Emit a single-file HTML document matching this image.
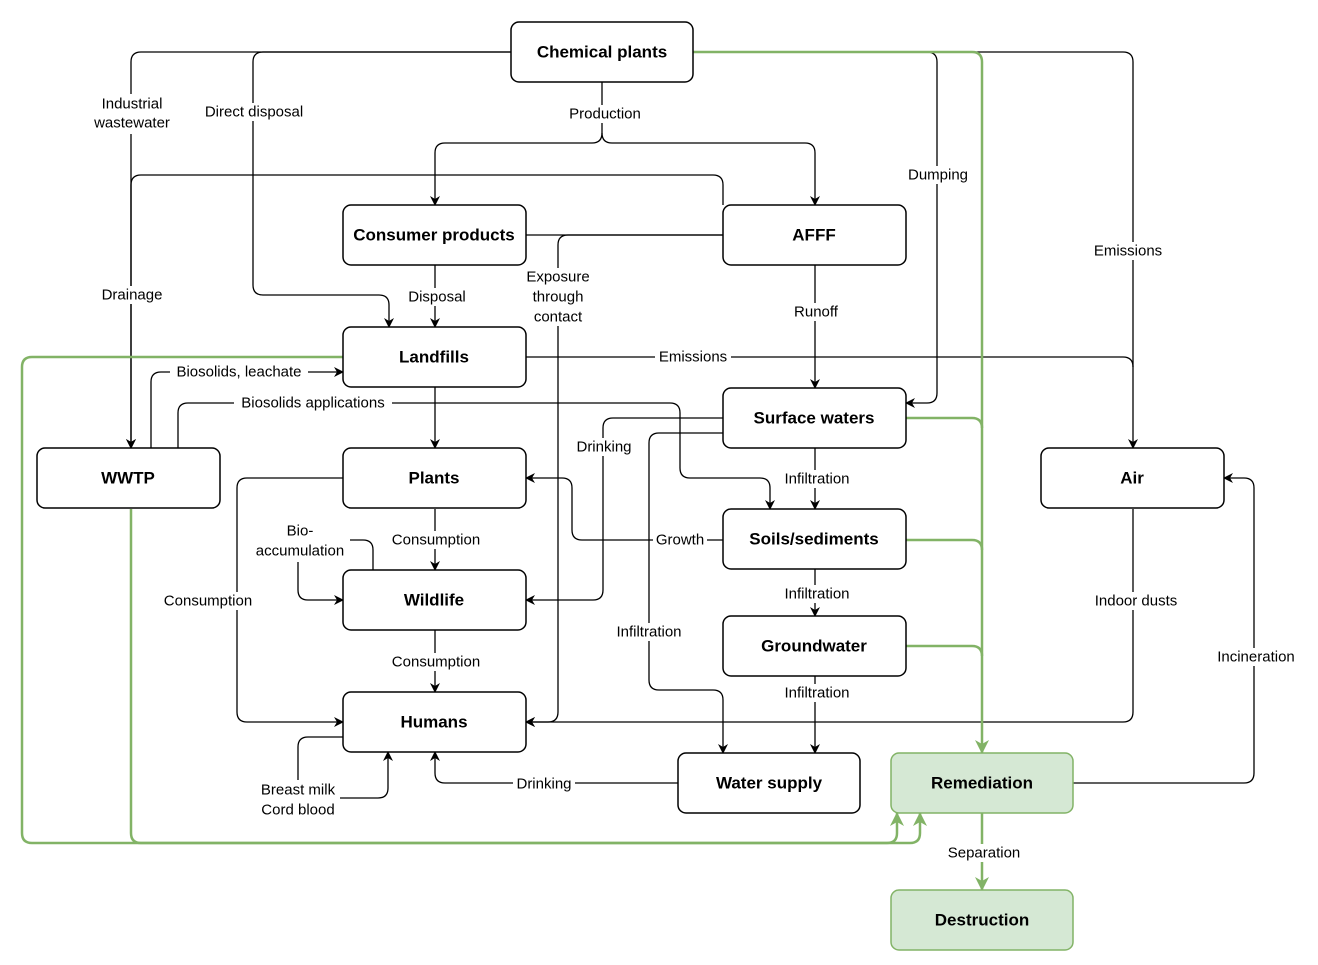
<!DOCTYPE html>
<html><head><meta charset="utf-8"><style>
html,body{margin:0;padding:0;background:#fff}
svg{display:block}
.n{fill:#fff;stroke:#000;stroke-width:1.5}
.g{fill:#d5e8d4;stroke:#82b366;stroke-width:1.5}
.t{font-family:"Liberation Sans",sans-serif;font-weight:bold;font-size:17px;text-anchor:middle;dominant-baseline:central}
.l{font-family:"Liberation Sans",sans-serif;font-size:15px;text-anchor:middle;dominant-baseline:central}
.e{fill:none;stroke:#000;stroke-width:1.3}
.ge{fill:none;stroke:#82b366;stroke-width:2.5}
.lb{fill:#fff}
</style></head><body>
<svg width="1318" height="965" viewBox="0 0 1318 965" xmlns="http://www.w3.org/2000/svg">
<defs>
<marker id="a" markerWidth="10" markerHeight="10" refX="9" refY="5" orient="auto" markerUnits="userSpaceOnUse"><path d="M0,0 L10,5 L0,10 L3,5 Z" fill="#000"/></marker>
<marker id="ga" markerWidth="14" markerHeight="14" refX="13" refY="7" orient="auto" markerUnits="userSpaceOnUse"><path d="M0,0 L14,7 L0,14 L4,7 Z" fill="#82b366"/></marker>
</defs>
<path class="e" marker-end="url(#a)" d="M511,52 H141 Q131,52 131,62 V448"/>
<path class="e" marker-end="url(#a)" d="M511,52 H263 Q253,52 253,62 V285 Q253,295 263,295 H379 Q389,295 389,305 V327"/>
<path class="e" d="M602,82 V133 Q602,143 592,143 H445 Q435,143 435,153 V205" marker-end="url(#a)"/>
<path class="e" d="M602,133 Q602,143 612,143 H805 Q815,143 815,153 V205" marker-end="url(#a)"/>
<path class="e" marker-end="url(#a)" d="M723,205 V185 Q723,175 713,175 H141 Q131,175 131,185 V448"/>
<path class="e" d="M526,235 H723"/>
<path class="e" marker-end="url(#a)" d="M723,235 H568 Q558,235 558,245 V712 Q558,722 548,722 H526"/>
<path class="e" marker-end="url(#a)" d="M435,265 V327"/>
<path class="e" marker-end="url(#a)" d="M815,265 V388"/>
<path class="e" marker-end="url(#a)" d="M693,52 H927 Q937,52 937,62 V393 Q937,403 927,403 H906"/>
<path class="e" marker-end="url(#a)" d="M693,52 H1123 Q1133,52 1133,62 V448"/>
<path class="e" d="M526,357 H1123 Q1133,357 1133,367"/>
<path class="e" marker-end="url(#a)" d="M151,448 V382 Q151,372 161,372 H343"/>
<path class="e" marker-end="url(#a)" d="M178,448 V413 Q178,403 188,403 H670 Q680,403 680,413 V468 Q680,478 690,478 H760 Q770,478 770,488 V509"/>
<path class="e" marker-end="url(#a)" d="M435,387 V448"/>
<path class="e" marker-end="url(#a)" d="M723,418 H613 Q603,418 603,428 V590 Q603,600 593,600 H526"/>
<path class="e" marker-end="url(#a)" d="M723,433 H659 Q649,433 649,443 V680 Q649,690 659,690 H713 Q723,690 723,700 V753"/>
<path class="e" marker-end="url(#a)" d="M815,448 V509"/>
<path class="e" marker-end="url(#a)" d="M723,540 H582 Q572,540 572,530 V488 Q572,478 562,478 H526"/>
<path class="e" marker-end="url(#a)" d="M815,569 V616"/>
<path class="e" marker-end="url(#a)" d="M815,676 V753"/>
<path class="e" marker-end="url(#a)" d="M1133,509 V712 Q1133,722 1123,722 H526"/>
<path class="e" marker-end="url(#a)" d="M343,478 H247 Q237,478 237,488 V712 Q237,722 247,722 H343"/>
<path class="e" marker-end="url(#a)" d="M435,509 V570"/>
<path class="e" d="M373,570 V550 Q373,540 363,540 H350"/>
<path class="e" marker-end="url(#a)" d="M298,560 V590 Q298,600 308,600 H343"/>
<path class="e" marker-end="url(#a)" d="M435,630 V692"/>
<path class="e" d="M343,737 H308 Q298,737 298,747 V780"/>
<path class="e" marker-end="url(#a)" d="M320,798 H378 Q388,798 388,788 V752"/>
<path class="e" marker-end="url(#a)" d="M678,783 H445 Q435,783 435,773 V752"/>
<path class="e" marker-end="url(#a)" d="M1073,783 H1244 Q1254,783 1254,773 V488 Q1254,478 1244,478 H1224"/>
<path class="ge" marker-end="url(#ga)" d="M693,52 H972 Q982,52 982,62 V753"/>
<path class="ge" d="M906,418 H972 Q982,418 982,428"/>
<path class="ge" d="M906,540 H972 Q982,540 982,550"/>
<path class="ge" d="M906,646 H972 Q982,646 982,656"/>
<path class="ge" marker-end="url(#ga)" d="M343,357 H32 Q22,357 22,367 V833 Q22,843 32,843 H887 Q897,843 897,833 V813"/>
<path class="ge" marker-end="url(#ga)" d="M131,509 V833 Q131,843 141,843 H910 Q920,843 920,833 V813"/>
<path class="ge" marker-end="url(#ga)" d="M982,813 V890"/>
<rect class="n" x="511" y="22" width="182" height="60" rx="8"/><text class="t" x="602" y="52">Chemical plants</text>
<rect class="n" x="343" y="205" width="183" height="60" rx="8"/><text class="t" x="434" y="235">Consumer products</text>
<rect class="n" x="723" y="205" width="183" height="60" rx="8"/><text class="t" x="814" y="235">AFFF</text>
<rect class="n" x="343" y="327" width="183" height="60" rx="8"/><text class="t" x="434" y="357">Landfills</text>
<rect class="n" x="37" y="448" width="183" height="60" rx="8"/><text class="t" x="128" y="478">WWTP</text>
<rect class="n" x="343" y="448" width="183" height="60" rx="8"/><text class="t" x="434" y="478">Plants</text>
<rect class="n" x="723" y="388" width="183" height="60" rx="8"/><text class="t" x="814" y="418">Surface waters</text>
<rect class="n" x="1041" y="448" width="183" height="60" rx="8"/><text class="t" x="1132" y="478">Air</text>
<rect class="n" x="723" y="509" width="183" height="60" rx="8"/><text class="t" x="814" y="539">Soils/sediments</text>
<rect class="n" x="343" y="570" width="183" height="60" rx="8"/><text class="t" x="434" y="600">Wildlife</text>
<rect class="n" x="723" y="616" width="183" height="60" rx="8"/><text class="t" x="814" y="646">Groundwater</text>
<rect class="n" x="343" y="692" width="183" height="60" rx="8"/><text class="t" x="434" y="722">Humans</text>
<rect class="n" x="678" y="753" width="182" height="60" rx="8"/><text class="t" x="769" y="783">Water supply</text>
<rect class="g" x="891" y="753" width="182" height="60" rx="8"/><text class="t" x="982" y="783">Remediation</text>
<rect class="g" x="891" y="890" width="182" height="60" rx="8"/><text class="t" x="982" y="920">Destruction</text>
<g class="l">
<rect class="lb" x="92" y="94" width="80" height="40"/><text x="132" y="104">Industrial</text><text x="132" y="123">wastewater</text>
<rect class="lb" x="198" y="103" width="112" height="18"/><text x="254" y="112">Direct disposal</text>
<rect class="lb" x="565" y="105" width="80" height="18"/><text x="605" y="114">Production</text>
<rect class="lb" x="905" y="166" width="66" height="18"/><text x="938" y="175">Dumping</text>
<rect class="lb" x="1090" y="242" width="76" height="18"/><text x="1128" y="251">Emissions</text>
<rect class="lb" x="98" y="286" width="68" height="18"/><text x="132" y="295">Drainage</text>
<rect class="lb" x="404" y="288" width="66" height="18"/><text x="437" y="297">Disposal</text>
<rect class="lb" x="522" y="268" width="72" height="58"/><text x="558" y="277">Exposure</text><text x="558" y="297">through</text><text x="558" y="317">contact</text>
<rect class="lb" x="792" y="303" width="48" height="18"/><text x="816" y="312">Runoff</text>
<rect class="lb" x="655" y="348" width="76" height="18"/><text x="693" y="357">Emissions</text>
<rect class="lb" x="170" y="363" width="138" height="18"/><text x="239" y="372">Biosolids, leachate</text>
<rect class="lb" x="234" y="394" width="158" height="18"/><text x="313" y="403">Biosolids applications</text>
<rect class="lb" x="572" y="438" width="64" height="18"/><text x="604" y="447">Drinking</text>
<rect class="lb" x="780" y="470" width="74" height="18"/><text x="817" y="479">Infiltration</text>
<rect class="lb" x="653" y="531" width="54" height="18"/><text x="680" y="540">Growth</text>
<rect class="lb" x="386" y="531" width="100" height="18"/><text x="436" y="540">Consumption</text>
<rect class="lb" x="250" y="522" width="100" height="40"/><text x="300" y="531">Bio-</text><text x="300" y="551">accumulation</text>
<rect class="lb" x="158" y="592" width="100" height="18"/><text x="208" y="601">Consumption</text>
<rect class="lb" x="780" y="585" width="74" height="18"/><text x="817" y="594">Infiltration</text>
<rect class="lb" x="1090" y="592" width="92" height="18"/><text x="1136" y="601">Indoor dusts</text>
<rect class="lb" x="612" y="623" width="74" height="18"/><text x="649" y="632">Infiltration</text>
<rect class="lb" x="1212" y="648" width="88" height="18"/><text x="1256" y="657">Incineration</text>
<rect class="lb" x="386" y="653" width="100" height="18"/><text x="436" y="662">Consumption</text>
<rect class="lb" x="780" y="684" width="74" height="18"/><text x="817" y="693">Infiltration</text>
<rect class="lb" x="513" y="775" width="62" height="18"/><text x="544" y="784">Drinking</text>
<rect class="lb" x="256" y="781" width="84" height="38"/><text x="298" y="790">Breast milk</text><text x="298" y="810">Cord blood</text>
<rect class="lb" x="944" y="844" width="80" height="18"/><text x="984" y="853">Separation</text>
</g>
</svg>
</body></html>
